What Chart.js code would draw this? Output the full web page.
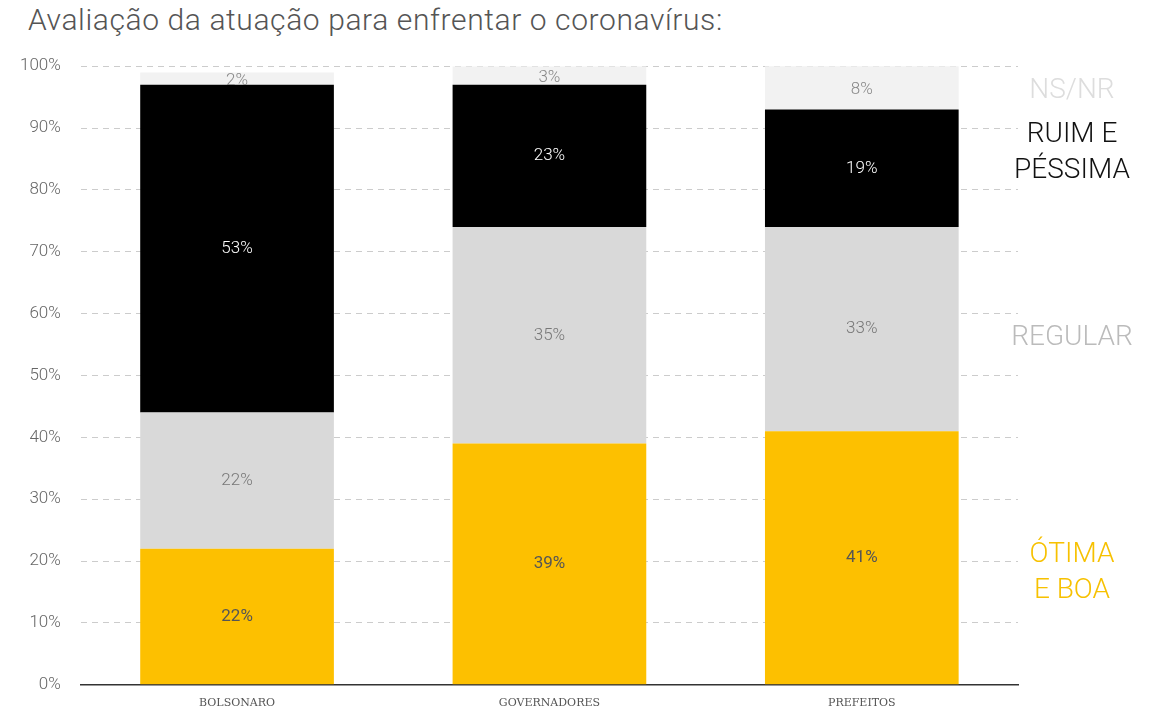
<!DOCTYPE html>
<html lang="pt">
<head>
<meta charset="UTF-8">
<script src="https://cdn.jsdelivr.net/npm/chart.js"></script>
<style>
  body { margin: 0; background: #fff; font-family: Roboto, sans-serif; }
  #title { position: absolute; left: 28px; top: 2px; font-size: 30px; font-weight: 300; color: #555; letter-spacing: 0.6px; }
  #box { position: absolute; left: 0; top: 36px; width: 1167px; height: 686px; }
</style>
</head>
<body>
<div id="title">Avaliação da atuação para enfrentar o coronavírus:</div>
<div id="box"><canvas id="c"></canvas></div>
<script>
const categories = ["BOLSONARO", "GOVERNADORES", "PREFEITOS"];
const otimaBoa = [22, 39, 41];
const regular = [22, 35, 33];
const ruimPessima = [53, 23, 19];
const nsnr = [2, 3, 8];
const yTicks = [0, 10, 20, 30, 40, 50, 60, 70, 80, 90, 100];

const labelColors = ["#555", "#777", "#fff", "#888"];
const sideLabels = [
  { text: ["ÓTIMA", "E BOA"], y: 18, color: "#f7c100" },
  { text: ["REGULAR"], y: 56, color: "#bbb" },
  { text: ["RUIM E", "PÉSSIMA"], y: 86, color: "#111" },
  { text: ["NS/NR"], y: 96, color: "#ddd" }
];

const valuePlugin = {
  id: "vals",
  afterDatasetsDraw(chart) {
    const ctx = chart.ctx;
    ctx.save();
    ctx.textAlign = "center";
    ctx.textBaseline = "middle";
    chart.data.datasets.forEach((ds, i) => {
      chart.getDatasetMeta(i).data.forEach((bar, j) => {
        const top = Math.max(bar.y, chart.chartArea.top);
        ctx.fillStyle = labelColors[i];
        ctx.font = (i === 0 ? "400 " : "300 ") + "17px Roboto";
        ctx.fillText(ds.data[j] + "%", bar.x, (top + bar.base) / 2 + (i === 3 ? 2 : 0));
      });
    });
    const ys = chart.scales.y;
    ctx.font = "300 28px Roboto";
    sideLabels.forEach(s => {
      ctx.fillStyle = s.color;
      const y0 = ys.getPixelForValue(s.y) - (s.text.length - 1) * 18;
      s.text.forEach((t, k) => ctx.fillText(t, 1072, y0 + k * 36));
    });
    ctx.restore();
  }
};

new Chart(document.getElementById("c"), {
  type: "bar",
  data: {
    labels: categories,
    datasets: [
      { data: otimaBoa, backgroundColor: "#fdc000" },
      { data: regular, backgroundColor: "#d9d9d9" },
      { data: ruimPessima, backgroundColor: "#000" },
      { data: nsnr, backgroundColor: "#f2f2f2" }
    ]
  },
  options: {
    responsive: true,
    maintainAspectRatio: false,
    animation: false,
    layout: { padding: { left: 0, right: 149, top: 30, bottom: 0 } },
    datasets: { bar: { barPercentage: 0.62, categoryPercentage: 1 } },
    plugins: { legend: { display: false }, tooltip: { enabled: false } },
    scales: {
      x: {
        stacked: true,
        grid: { display: false, drawTicks: false },
        border: { color: "#333", width: 1.5 },
        ticks: { color: "#555", font: { family: "DejaVu Serif", size: 11 }, padding: 12 }
      },
      y: {
        stacked: true,
        min: 0, max: 100,
        afterBuildTicks: a => { a.ticks = yTicks.map(v => ({ value: v })); },
        grid: { color: "#ccc", borderDash: [6, 5], drawTicks: false },
        border: { display: false, dash: [6, 5] },
        ticks: { color: "#666", font: { family: "Roboto", weight: 300, size: 17 }, padding: 20, callback: v => v + "%" }
      }
    }
  },
  plugins: [valuePlugin]
});
</script>
</body>
</html>
